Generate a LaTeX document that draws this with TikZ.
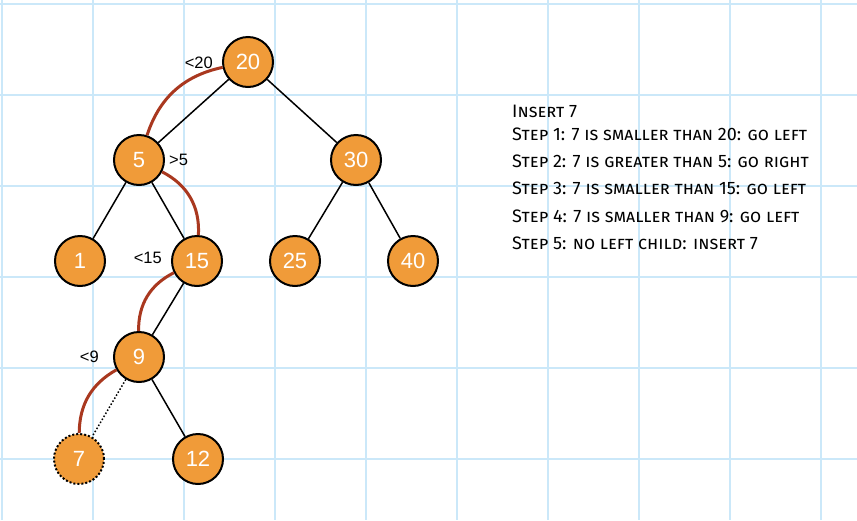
\documentclass[tikz,border=0pt]{standalone}
\usepackage{fontspec}
\setmainfont{Liberation Sans}
\newfontfamily\stepfont[Letters=SmallCaps]{Fira Sans}
\definecolor{gridblue}{HTML}{CBE8F9}
\definecolor{keyorange}{HTML}{F09B39}
\definecolor{pathred}{HTML}{A9381F}
\tikzset{
  gridline/.style={draw=gridblue, line width=2pt},
  keynode/.style={circle, draw=black, line width=2pt, fill=keyorange, minimum size=50pt,
    inner sep=0pt, text=white, font=\fontsize{22}{22}\selectfont},
  newkey/.style={keynode, dotted, line width=2pt},
  treeedge/.style={draw=black, line width=1.5pt},
  searchpath/.style={draw=pathred, line width=3pt},
  cmplabel/.style={font=\fontsize{16.5}{16.5}\selectfont, inner sep=0pt},
  steptext/.style={font=\stepfont\fontsize{18}{18}\selectfont, inner sep=0pt, anchor=base west}
}
\begin{document}
\begin{tikzpicture}[x=1pt,y=-1pt]
\useasboundingbox[fill=white] (0,0) rectangle (857,520);
\foreach \x in {2,93,...,822} \draw[gridline] (\x,0) -- (\x,520);
\foreach \y in {4,95,...,460} \draw[gridline] (0,\y) -- (857,\y);

\node[keynode] (n20) at (248,62) {20};
\node[keynode] (n5) at (139,160) {5};
\node[keynode] (n30) at (356,160) {30};
\node[keynode] (n1) at (80,261) {1};
\node[keynode] (n15) at (197,261) {15};
\node[keynode] (n25) at (295,261) {25};
\node[keynode] (n40) at (413,261) {40};
\node[keynode] (n9) at (139,357) {9};
\node[newkey] (n7) at (79,459) {7};
\node[keynode] (n12) at (198,459) {12};

\draw[treeedge] (n20) -- (n5);
\draw[treeedge] (n20) -- (n30);
\draw[treeedge] (n5) -- (n1);
\draw[treeedge] (n5) -- (n15);
\draw[treeedge] (n30) -- (n25);
\draw[treeedge] (n30) -- (n40);
\draw[treeedge] (n15) -- (n9);
\draw[treeedge] (n9) -- (n12);
\draw[treeedge, dotted] (n9) -- (n7);

\draw[searchpath] (n20) to[bend right=30] (n5);
\draw[searchpath] (n5) to[bend left=33] (n15);
\draw[searchpath] (n15) to[bend right=32] (n9);
\draw[searchpath] (n9) to[bend right=30] (n7);

\node[cmplabel, anchor=east] (lt20) at (213,63) {<20};
\node[cmplabel, anchor=west] (gt5) at (169,160) {>5};
\node[cmplabel, anchor=east] (lt15) at (162,258) {<15};
\node[cmplabel, anchor=east] (lt9) at (99,357) {<9};

\node[steptext] (insert) at (512,117) {Insert 7};
\foreach \txt [count=\i] in {Step 1: 7 is smaller than 20: go left,
    Step 2: 7 is greater than 5: go right,
    Step 3: 7 is smaller than 15: go left,
    Step 4: 7 is smaller than 9: go left,
    Step 5: no left child: insert 7}
  \node[steptext] (step\i) at (512,{140.7+27.1*(\i-1)}) {\txt};
\end{tikzpicture}
\end{document}
